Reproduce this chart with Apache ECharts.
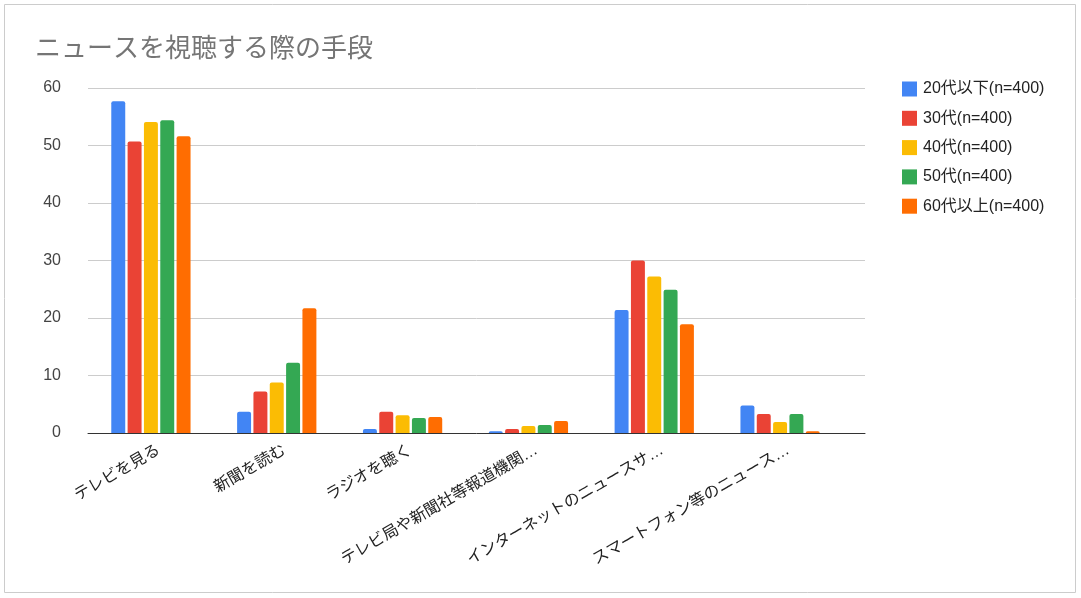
<!DOCTYPE html>
<html>
<head>
<meta charset="utf-8">
<script src="https://cdn.jsdelivr.net/npm/echarts@6/dist/echarts.min.js"></script>
<style>
  html, body { margin: 0; padding: 0; background: #fff; }
  #chart { width: 1081px; height: 598px; }
</style>
</head>
<body>
<div id="chart"></div>
<script>
const categories = [
  'テレビを見る',
  '新聞を読む',
  'ラジオを聴く',
  'テレビ局や新聞社等報道機関…',
  'インターネットのニュースサ…',
  'スマートフォン等のニュース…',
];
const seriesNames = ['20代以下(n=400)', '30代(n=400)', '40代(n=400)', '50代(n=400)', '60代以上(n=400)'];
const age20 = [57.7, 3.7, 0.7, 0.3, 21.4, 4.8];
const age30 = [50.7, 7.2, 3.7, 0.7, 30.0, 3.3];
const age40 = [54.1, 8.8, 3.1, 1.2, 27.2, 1.9];
const age50 = [54.4, 12.2, 2.6, 1.4, 24.9, 3.3];
const age60 = [51.6, 21.7, 2.8, 2.1, 18.9, 0.3];
const colors = ['#4285F4', '#EA4335', '#FBBC04', '#34A853', '#FF6D01'];

const font = 'Arial, "Liberation Sans", "Noto Sans CJK JP", sans-serif';
const chart = echarts.init(document.getElementById('chart'), null, { renderer: 'canvas' });

const values = [age20, age30, age40, age50, age60];

const hiddenValueAxis = (gridIndex) => ({
  type: 'value',
  gridIndex,
  min: 0,
  max: 60,
  interval: 10,
  axisLine: { show: false },
  axisTick: { show: false },
  axisLabel: { show: false },
  splitLine: { show: false },
});

const option = {
  animation: false,
  textStyle: { fontFamily: font },
  title: {
    text: 'ニュースを視聴する際の手段',
    left: 30,
    top: 32,
    textStyle: { fontSize: 26, fontWeight: 'normal', color: '#757575', fontFamily: font },
  },
  graphic: [{
    type: 'rect',
    shape: { x: 4.5, y: 4.5, width: 1071, height: 588 },
    style: { fill: 'none', stroke: '#cccccc', lineWidth: 1 },
    silent: true,
  }],
  legend: {
    orient: 'vertical',
    left: 897,
    top: 76,
    icon: 'rect',
    itemWidth: 15,
    itemHeight: 15,
    itemGap: 13.3,
    textStyle: { fontSize: 16, color: '#222', fontFamily: font, padding: [0, 0, 0, 1] },
    data: seriesNames,
  },
  // grid 0: full-width frame with gridlines and baseline; grid 1: the bars; grid 2: category labels
  grid: [
    { left: 88, right: 216, top: 88, bottom: 165 },
    { left: 88, right: 238, top: 88, bottom: 165 },
    { left: 96, right: 230, top: 88, bottom: 165 },
  ],
  xAxis: [
    {
      type: 'category',
      gridIndex: 0,
      data: [''],
      axisLine: { lineStyle: { color: '#333', width: 1 } },
      axisTick: { show: false },
      axisLabel: { show: false },
    },
    {
      type: 'category',
      gridIndex: 1,
      data: categories,
      axisLine: { show: false },
      axisTick: { show: false },
      axisLabel: { show: false },
    },
    {
      type: 'category',
      gridIndex: 2,
      data: categories,
      axisLine: { show: false },
      axisTick: { show: false },
      axisLabel: {
        rotate: 30,
        interval: 0,
        fontSize: 16,
        color: '#222',
        margin: 16,
        fontFamily: font,
      },
    },
  ],
  yAxis: [
    {
      type: 'value',
      gridIndex: 0,
      min: 0,
      max: 60,
      interval: 10,
      axisLine: { show: false },
      axisTick: { show: false },
      axisLabel: { fontSize: 16, color: '#444', margin: 27, fontFamily: font },
      splitLine: { lineStyle: { color: '#cccccc', width: 1 } },
    },
    hiddenValueAxis(1),
    hiddenValueAxis(2),
  ],
  series: seriesNames.map((name, i) => ({
    name,
    type: 'bar',
    xAxisIndex: 1,
    yAxisIndex: 1,
    data: values[i],
    barGap: '17%',
    barCategoryGap: '37%',
    z: 3,
    itemStyle: { color: colors[i], borderRadius: [2, 2, 0, 0] },
  })),
};

chart.setOption(option);
</script>
</body>
</html>
